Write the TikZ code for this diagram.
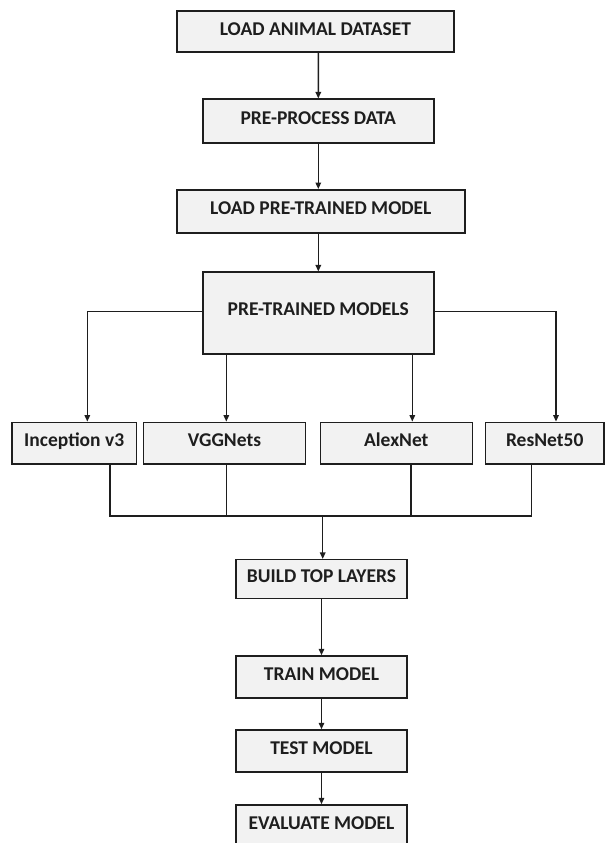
\documentclass[tikz,border=0pt]{standalone}
\usepackage{fontspec}
\setmainfont{Carlito}
\usetikzlibrary{arrows.meta,calc}
\definecolor{boxfill}{HTML}{F2F2F2}
\definecolor{ink}{HTML}{1E1E1E}
\begin{document}
\begin{tikzpicture}[x=1pt,y=-1pt,
  box/.style={draw=ink, fill=boxfill, line width=1.5pt, rectangle, inner sep=0pt,
    font=\fontsize{19.5}{23}\selectfont\bfseries, text=ink, text height=13.5pt, text depth=6.5pt, align=center},
  conn/.style={draw=ink, line width=1.4pt},
  arr/.style={conn, -{Triangle[length=6.5pt,width=5.5pt]}}]
\useasboundingbox (0,0) rectangle (606,843);

\node[box, minimum width=277pt, minimum height=41pt] (b1) at (315.4,31.7) {LOAD ANIMAL DATASET};
\node[box, minimum width=231pt, minimum height=44pt] (b2) at (318.3,121.2) {PRE-PROCESS DATA};
\node[box, minimum width=288pt, minimum height=43pt] (b3) at (320.8,211.3) {LOAD PRE-TRAINED MODEL};
\node[box, minimum width=231pt, minimum height=82pt, text depth=9.5pt] (b4) at (318.3,313.2) {PRE-TRAINED MODELS};

\node[box, minimum width=124.3pt, minimum height=41.7pt] (inc) at (74.2,443.2) {Inception v3};
\node[box, minimum width=162.4pt, minimum height=41.7pt] (vgg) at (224.5,443.2) {VGGNets};
\node[box, minimum width=152pt, minimum height=41.7pt] (alex) at (396.3,443.2) {AlexNet};
\node[box, minimum width=118.7pt, minimum height=41.7pt] (res) at (544.7,443.2) {ResNet50};

\node[box, minimum width=171pt, minimum height=39pt] (build) at (321.5,579.2) {BUILD TOP LAYERS};
\node[box, minimum width=171pt, minimum height=42pt] (train) at (321.5,677) {TRAIN MODEL};
\node[box, minimum width=171pt, minimum height=42pt] (test) at (321.5,751) {TEST MODEL};
\node[box, minimum width=171pt, minimum height=42pt] (eval) at (321.5,826) {EVALUATE MODEL};

\coordinate (bus) at (322.7,516);

\draw[arr] ([xshift=2.9pt]b1.south) -- (b2.north);
\draw[arr] (b2.south) -- (b2.south |- b3.north);
\draw[arr] (b2.south |- b3.south) -- (b4.north);

\draw[arr] ([yshift=2pt]b4.west) -| ([xshift=13.1pt]inc.north);
\draw[arr] ([yshift=2pt]b4.east) -| ([xshift=11.3pt]res.north);
\draw[arr] ([xshift=-92pt]b4.south) -- ([xshift=1.8pt]vgg.north);
\draw[arr] ([xshift=94pt]b4.south) -- ([xshift=16pt]alex.north);

\draw[conn] ([xshift=35.8pt]inc.south) |- (bus);
\draw[conn] ([xshift=1.8pt]vgg.south) |- (bus);
\draw[conn] ([xshift=-13pt]res.south) |- (bus);
\draw[conn] ([xshift=14.7pt]alex.south) -- ([xshift=14.7pt]alex.south |- bus);
\draw[arr] (bus) -- (bus |- build.north);

\draw[arr] (build.south) -- (train.north);
\draw[arr] (train.south) -- (test.north);
\draw[arr] (test.south) -- (eval.north);
\end{tikzpicture}
\end{document}
